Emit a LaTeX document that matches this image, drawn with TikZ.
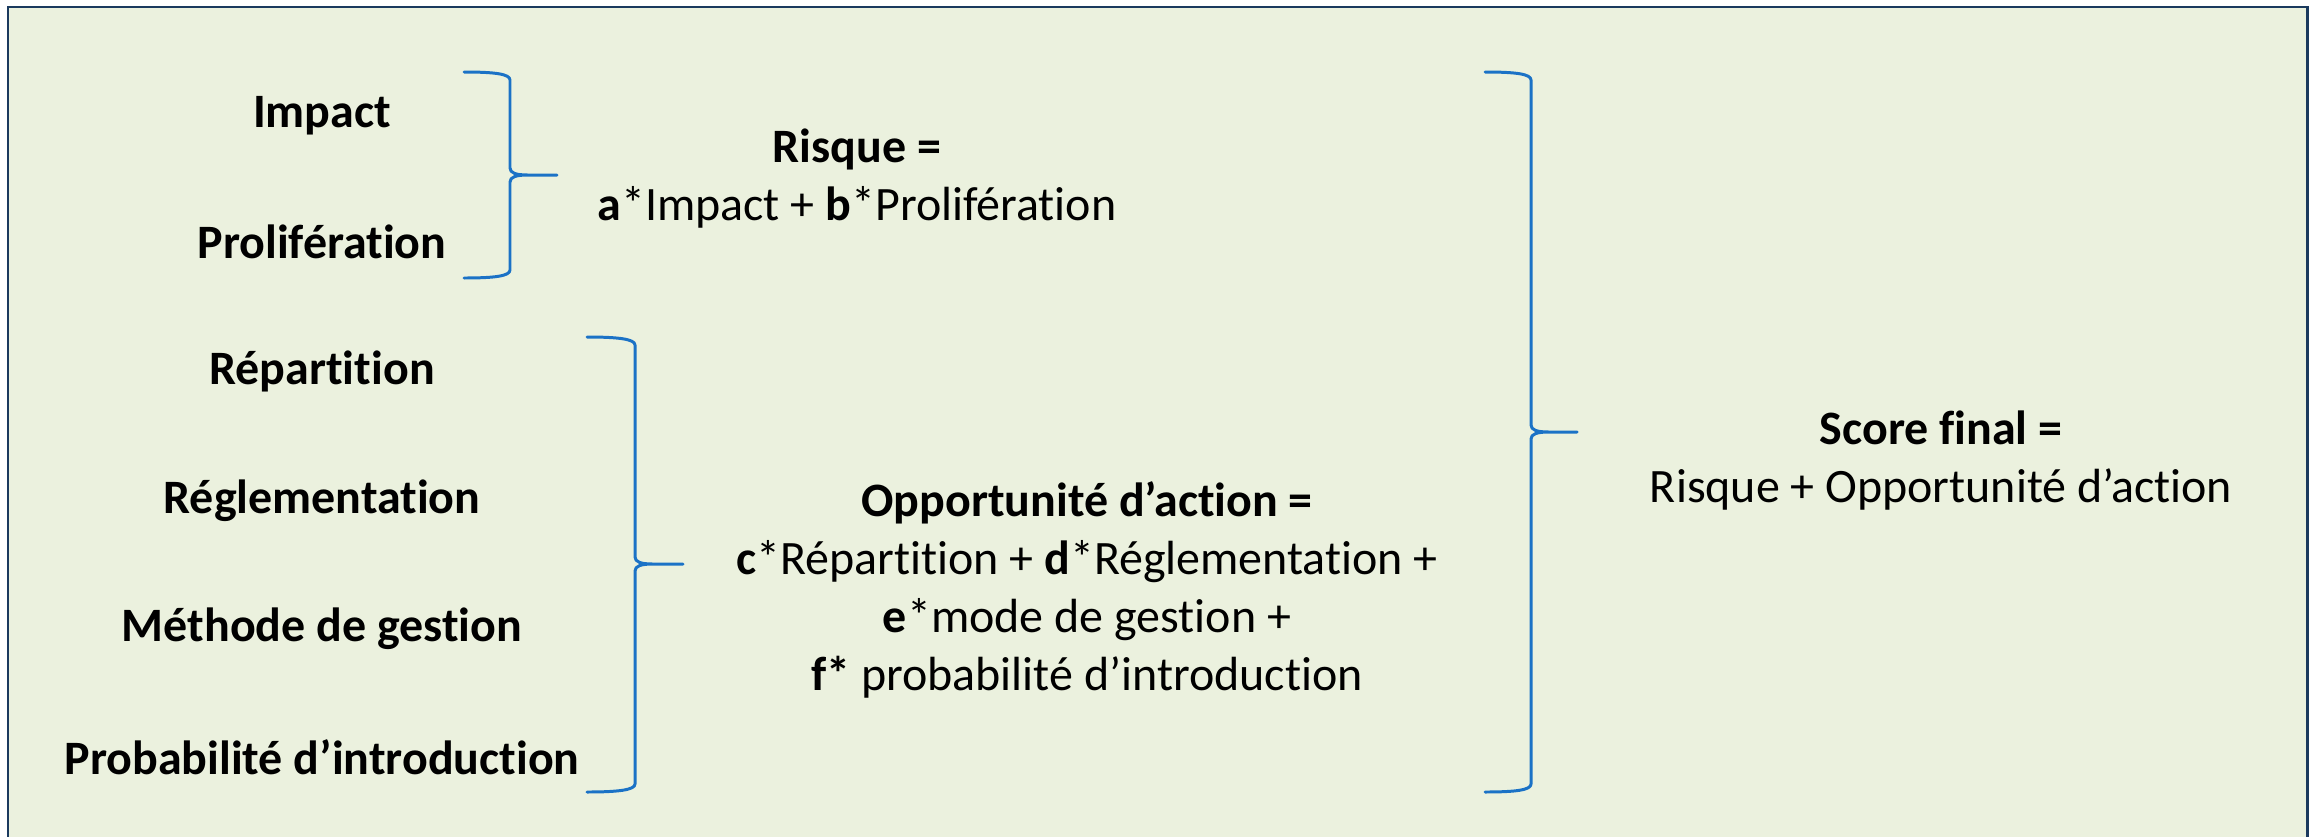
\documentclass[tikz,border=0pt]{standalone}
\usepackage{fontspec}
\setmainfont[Ligatures=NoCommon]{Carlito}
\definecolor{fond}{HTML}{EBF1DE}
\definecolor{cadre}{HTML}{1B3A5E}
\definecolor{bleu}{HTML}{1B72C6}
\tikzset{
  texte/.style={font=\fontsize{27.3}{33}\selectfont, align=center},
  critere/.style={texte, font=\fontsize{27.3}{33}\selectfont\bfseries},
  bracket/.style={bleu, line width=1.7pt, line join=round, line cap=round},
}
\begin{document}
\begin{tikzpicture}[x=0.02cm, y=-0.02cm]
\clip (0,0) rectangle (2313,836);
\fill[white] (0,0) rectangle (2313,836);
\draw[fill=fond, draw=cadre, line width=1.7pt] (8,7) rectangle (2307,870);
% criteres
\node[critere] (impact) at (322,116) {Impact};
\node[critere] (prolif) at (322,242) {Prolifération};
\node[critere] (repart) at (322,371) {Répartition};
\node[critere] (reglem) at (322,501) {Réglementation};
\node[critere] (methode) at (322,629) {Méthode de gestion};
\node[critere] (proba) at (322,757) {Probabilité d’introduction};
% accolades
\draw[bracket] (464,72) .. controls (495,72) and (510,74) .. (510,80) -- (510,168)
  .. controls (510,173) and (516,175) .. (528,175) -- (557,175) -- (528,175)
  .. controls (516,175) and (510,177) .. (510,182) -- (510,270)
  .. controls (510,276) and (495,278) .. (464,278);
\draw[bracket] (587,337) .. controls (618,337) and (635,339) .. (635,345) -- (635,557)
  .. controls (635,562) and (641,564) .. (653,564) -- (683,564) -- (653,564)
  .. controls (641,564) and (635,566) .. (635,571) -- (635,784)
  .. controls (635,790) and (618,792) .. (587,792);
\draw[bracket] (1485,72) .. controls (1516,72) and (1531,74) .. (1531,80) -- (1531,425)
  .. controls (1531,430) and (1537,432) .. (1549,432) -- (1577,432) -- (1549,432)
  .. controls (1537,432) and (1531,434) .. (1531,439) -- (1531,784)
  .. controls (1531,790) and (1516,792) .. (1485,792);
% formules
\node[texte] (risque) at (857,179) {\textbf{Risque =}\\
  \textbf{a}*Impact + \textbf{b}*Prolifération};
\node[texte] (opport) at (1087,590) {\textbf{Opportunité d’action =}\\
  \textbf{c}*Répartition + \textbf{d}*Réglementation +\\
  \textbf{e}*mode de gestion +\\
  \textbf{f*} probabilité d’introduction};
\node[texte] (score) at (1941,461) {\textbf{Score final =}\\
  Risque + Opportunité d’action};
\end{tikzpicture}
\end{document}
